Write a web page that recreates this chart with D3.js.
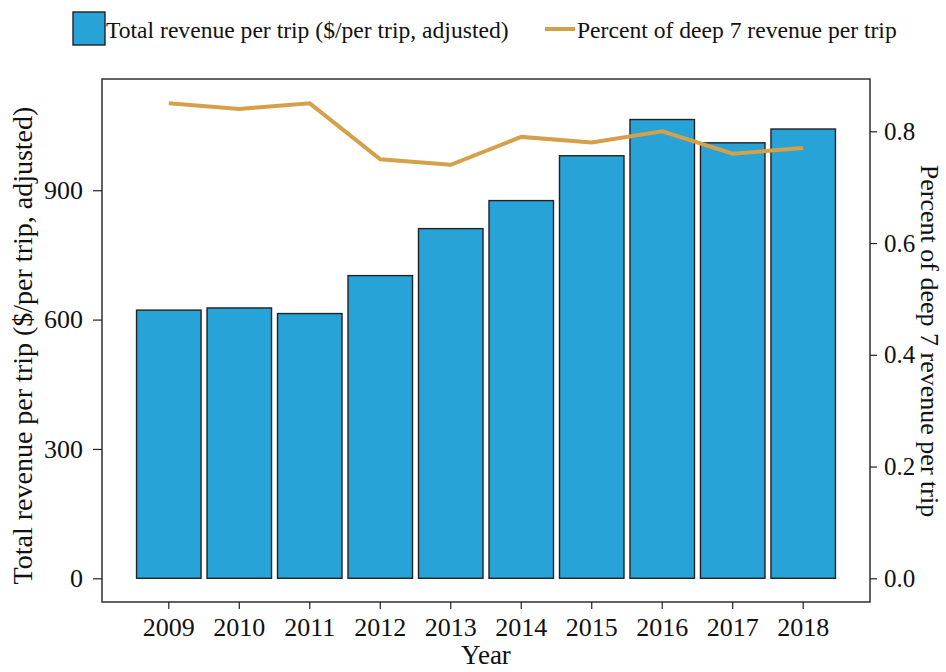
<!DOCTYPE html>
<html>
<head>
<meta charset="utf-8">
<script src="https://cdn.jsdelivr.net/npm/d3@7"></script>
<style>
  body { margin: 0; background: #fff; }
  text { font-family: "Liberation Serif", "Times New Roman", serif; fill: #111; }
</style>
</head>
<body>
<div id="chart"></div>
<script>
// DATA
var years = ["2009","2010","2011","2012","2013","2014","2015","2016","2017","2018"];
var revenue = [622, 627, 614, 702, 811, 876, 980, 1064, 1010, 1042];
var deep7Pct = [0.85, 0.84, 0.85, 0.75, 0.74, 0.79, 0.78, 0.80, 0.76, 0.77];
var leftTicks = [0, 300, 600, 900];
var rightTicks = [0.0, 0.2, 0.4, 0.6, 0.8];

var BAR_COLOR = "#27a3d7";
var LINE_COLOR = "#d4a04a";

var width = 946, height = 672;
var panel = {left: 102, right: 870, top: 79, bottom: 602};

var svg = d3.select('#chart').append('svg')
    .attr('width', width)
    .attr('height', height);

var x = d3.scaleBand()
    .domain(years)
    .range([panel.left, panel.right])
    .paddingInner(0.085)
    .paddingOuter(0.49);

var yL = d3.scaleLinear().domain([-55, 1158]).range([panel.bottom, panel.top]);
var yR = d3.scaleLinear().domain([-0.0424, 0.8936]).range([panel.bottom, panel.top]);

var rows = years.map(function(y, i) {
  return {year: y, revenue: revenue[i], pct: deep7Pct[i]};
});

// bars
svg.append('g')
  .selectAll('rect')
  .data(rows)
  .enter().append('rect')
    .attr('x', function(d) { return x(d.year); })
    .attr('width', x.bandwidth())
    .attr('y', function(d) { return yL(d.revenue); })
    .attr('height', function(d) { return yL(0) - yL(d.revenue); })
    .attr('fill', BAR_COLOR)
    .attr('stroke', '#222')
    .attr('stroke-width', 1.4);

// line
var line = d3.line()
    .x(function(d) { return x(d.year) + x.bandwidth() / 2; })
    .y(function(d) { return yR(d.pct); });

svg.append('path')
    .datum(rows)
    .attr('d', line)
    .attr('fill', 'none')
    .attr('stroke', LINE_COLOR)
    .attr('stroke-width', 4);

// panel border
svg.append('rect')
    .attr('x', panel.left)
    .attr('y', panel.top)
    .attr('width', panel.right - panel.left)
    .attr('height', panel.bottom - panel.top)
    .attr('fill', 'none')
    .attr('stroke', '#222')
    .attr('stroke-width', 1.4);

// axes
function styleAxis(g, size) {
  g.select('.domain').remove();
  g.selectAll('.tick line').attr('stroke', '#222').attr('stroke-width', 1.2);
  g.selectAll('.tick text')
    .style('font-family', '"Liberation Serif", serif')
    .style('font-size', size + 'px')
    .attr('fill', '#111');
}

svg.append('g')
    .attr('transform', 'translate(' + panel.left + ',0)')
    .call(d3.axisLeft(yL).tickValues(leftTicks).tickSize(9).tickPadding(10))
    .call(function(g) { styleAxis(g, 26); });

svg.append('g')
    .attr('transform', 'translate(' + panel.right + ',0)')
    .call(d3.axisRight(yR).tickValues(rightTicks).tickSize(7).tickPadding(7)
      .tickFormat(d3.format('.1f')))
    .call(function(g) { styleAxis(g, 25); });

svg.append('g')
    .attr('transform', 'translate(0,' + panel.bottom + ')')
    .call(d3.axisBottom(x).tickSize(7).tickPadding(9))
    .call(function(g) { styleAxis(g, 26); });

// axis titles
svg.append('text')
    .attr('transform', 'translate(32,' + ((panel.top + panel.bottom) / 2 + 5) + ') rotate(-90)')
    .attr('text-anchor', 'middle')
    .style('font-size', '28px')
    .text('Total revenue per trip ($/per trip, adjusted)');

svg.append('text')
    .attr('transform', 'translate(921,' + 341 + ') rotate(90)')
    .attr('text-anchor', 'middle')
    .style('font-size', '26px')
    .text('Percent of deep 7 revenue per trip');

svg.append('text')
    .attr('x', (panel.left + panel.right) / 2)
    .attr('y', 664)
    .attr('text-anchor', 'middle')
    .style('font-size', '27px')
    .text('Year');

// legend
var legend = svg.append('g');
legend.append('rect')
    .attr('x', 73).attr('y', 12)
    .attr('width', 32).attr('height', 33)
    .attr('fill', BAR_COLOR)
    .attr('stroke', '#222')
    .attr('stroke-width', 1.4);
legend.append('text')
    .attr('x', 106).attr('y', 38)
    .style('font-size', '23.6px')
    .text('Total revenue per trip ($/per trip, adjusted)');
legend.append('line')
    .attr('x1', 545).attr('x2', 575)
    .attr('y1', 29).attr('y2', 29)
    .attr('stroke', LINE_COLOR)
    .attr('stroke-width', 4);
legend.append('text')
    .attr('x', 577).attr('y', 38)
    .style('font-size', '23.6px')
    .text('Percent of deep 7 revenue per trip');
</script>
</body>
</html>
